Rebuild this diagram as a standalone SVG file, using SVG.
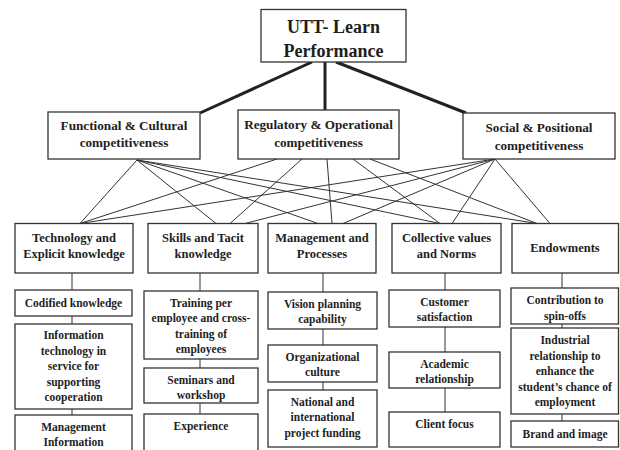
<svg xmlns="http://www.w3.org/2000/svg" width="620" height="450" viewBox="0 0 620 450">
<style>
  .box { fill: #ffffff; stroke: #333333; stroke-width: 1.3; }
  .thick { stroke: #222222; stroke-width: 3; fill: none; }
  .link { stroke: #333333; stroke-width: 1; fill: none; }
  text { font-family: "Liberation Serif", "Times New Roman", serif; font-weight: bold; fill: #1e1e1e; text-anchor: middle; }
  .t1 { font-size: 18px; }
  .t2 { font-size: 13.2px; }
  .t3 { font-size: 12.5px; }
  .t4 { font-size: 11.5px; }
</style>
<rect width="620" height="450" fill="#ffffff"/>

<g id="connectors">
  <!-- top level thick links -->
  <line class="thick" x1="312" y1="62" x2="200" y2="113"/>
  <line class="thick" x1="325" y1="62" x2="325" y2="110"/>
  <line class="thick" x1="336" y1="62" x2="466" y2="113"/>
  <!-- Functional & Cultural links -->
  <line class="link" x1="137" y1="160" x2="80" y2="223.5"/>
  <line class="link" x1="137" y1="160" x2="216" y2="223.5"/>
  <line class="link" x1="137" y1="160" x2="318" y2="223.5"/>
  <line class="link" x1="137" y1="160" x2="440" y2="223.5"/>
  <line class="link" x1="137" y1="160" x2="537" y2="223.5"/>
  <!-- Regulatory & Operational links -->
  <line class="link" x1="277" y1="159" x2="80" y2="223.5"/>
  <line class="link" x1="302" y1="159" x2="230" y2="223.5"/>
  <line class="link" x1="327" y1="159" x2="332" y2="223.5"/>
  <line class="link" x1="353" y1="159" x2="440" y2="223.5"/>
  <line class="link" x1="370" y1="159" x2="537" y2="223.5"/>
  <!-- Social & Positional links -->
  <line class="link" x1="495" y1="159" x2="80" y2="223.5"/>
  <line class="link" x1="495" y1="159" x2="245" y2="223.5"/>
  <line class="link" x1="495" y1="159" x2="343" y2="223.5"/>
  <line class="link" x1="495" y1="159" x2="452" y2="223.5"/>
  <line class="link" x1="495" y1="159" x2="550" y2="223.5"/>
  <!-- vertical chains -->
  <line class="link" x1="72" y1="273" x2="72" y2="290"/>
  <line class="link" x1="72" y1="316" x2="72" y2="324"/>
  <line class="link" x1="72" y1="409" x2="72" y2="415"/>
  <line class="link" x1="200" y1="273" x2="200" y2="291"/>
  <line class="link" x1="200" y1="359" x2="200" y2="368"/>
  <line class="link" x1="200" y1="403" x2="200" y2="414"/>
  <line class="link" x1="323" y1="273" x2="323" y2="292"/>
  <line class="link" x1="323" y1="329" x2="323" y2="345"/>
  <line class="link" x1="323" y1="382" x2="323" y2="390"/>
  <line class="link" x1="445" y1="273" x2="445" y2="290"/>
  <line class="link" x1="445" y1="327" x2="445" y2="352"/>
  <line class="link" x1="445" y1="388" x2="445" y2="412"/>
  <line class="link" x1="562" y1="273" x2="562" y2="288"/>
  <line class="link" x1="562" y1="324" x2="562" y2="328"/>
  <line class="link" x1="562" y1="414" x2="562" y2="421"/>
</g>

<g id="utt-learn">
  <rect class="box" x="261" y="9.5" width="145" height="52.5"/>
  <text class="t1" x="333.5" y="33">UTT- Learn</text>
  <text class="t1" x="333.5" y="57">Performance</text>
</g>

<g id="functional">
  <rect class="box" x="48" y="112" width="152" height="47"/>
  <text class="t2" x="124" y="130">Functional &amp; Cultural</text>
  <text class="t2" x="124" y="147">competitiveness</text>
</g>
<g id="regulatory">
  <rect class="box" x="238" y="110" width="161" height="49"/>
  <text class="t2" x="318.5" y="129">Regulatory &amp; Operational</text>
  <text class="t2" x="318.5" y="147">competitiveness</text>
</g>
<g id="social">
  <rect class="box" x="463" y="113" width="152" height="46"/>
  <text class="t2" x="539" y="132">Social &amp; Positional</text>
  <text class="t2" x="539" y="150">competitiveness</text>
</g>

<g id="technology">
  <rect class="box" x="15" y="223.5" width="118" height="49.5"/>
  <text class="t3" x="74" y="242">Technology and</text>
  <text class="t3" x="74" y="258">Explicit knowledge</text>
</g>
<g id="skills">
  <rect class="box" x="148" y="223.5" width="110" height="49.5"/>
  <text class="t3" x="203" y="242">Skills and Tacit</text>
  <text class="t3" x="203" y="258">knowledge</text>
</g>
<g id="management">
  <rect class="box" x="268" y="223.5" width="108" height="49.5"/>
  <text class="t3" x="322" y="242">Management and</text>
  <text class="t3" x="322" y="258">Processes</text>
</g>
<g id="collective">
  <rect class="box" x="392" y="223.5" width="109" height="49.5"/>
  <text class="t3" x="446.5" y="242">Collective values</text>
  <text class="t3" x="446.5" y="258">and Norms</text>
</g>
<g id="endowments">
  <rect class="box" x="512" y="223.5" width="106.5" height="49.5"/>
  <text class="t3" x="565" y="252">Endowments</text>
</g>

<g id="codified">
  <rect class="box" x="15" y="290" width="117" height="26"/>
  <text class="t4" x="73.5" y="307">Codified knowledge</text>
</g>
<g id="info-tech">
  <rect class="box" x="15" y="324" width="117" height="85"/>
  <text class="t4" x="73.5" y="339">Information</text>
  <text class="t4" x="73.5" y="354.5">technology in</text>
  <text class="t4" x="73.5" y="370">service for</text>
  <text class="t4" x="73.5" y="385.5">supporting</text>
  <text class="t4" x="73.5" y="401">cooperation</text>
</g>
<g id="mis">
  <rect class="box" x="15" y="415" width="117" height="42"/>
  <text class="t4" x="73.5" y="431">Management</text>
  <text class="t4" x="73.5" y="446">Information</text>
</g>

<g id="training">
  <rect class="box" x="144" y="291" width="114" height="68"/>
  <text class="t4" x="201" y="307">Training per</text>
  <text class="t4" x="201" y="322">employee and cross-</text>
  <text class="t4" x="201" y="337.5">training of</text>
  <text class="t4" x="201" y="353">employees</text>
</g>
<g id="seminars">
  <rect class="box" x="144" y="368" width="114" height="35"/>
  <text class="t4" x="201" y="384">Seminars and</text>
  <text class="t4" x="201" y="399">workshop</text>
</g>
<g id="experience">
  <rect class="box" x="144" y="414" width="114" height="43"/>
  <text class="t4" x="201" y="430">Experience</text>
</g>

<g id="vision">
  <rect class="box" x="268" y="292" width="109" height="37"/>
  <text class="t4" x="322.5" y="307.5">Vision planning</text>
  <text class="t4" x="322.5" y="322.5">capability</text>
</g>
<g id="organizational">
  <rect class="box" x="268" y="345" width="109" height="37"/>
  <text class="t4" x="322.5" y="361">Organizational</text>
  <text class="t4" x="322.5" y="376">culture</text>
</g>
<g id="funding">
  <rect class="box" x="268" y="390" width="109" height="57"/>
  <text class="t4" x="322.5" y="405.5">National and</text>
  <text class="t4" x="322.5" y="421">international</text>
  <text class="t4" x="322.5" y="436.5">project funding</text>
</g>

<g id="customer">
  <rect class="box" x="389" y="290" width="111" height="37"/>
  <text class="t4" x="444.5" y="306">Customer</text>
  <text class="t4" x="444.5" y="321">satisfaction</text>
</g>
<g id="academic">
  <rect class="box" x="389" y="352" width="111" height="36"/>
  <text class="t4" x="444.5" y="367.5">Academic</text>
  <text class="t4" x="444.5" y="383">relationship</text>
</g>
<g id="client">
  <rect class="box" x="389" y="412" width="111" height="35"/>
  <text class="t4" x="444.5" y="427.5">Client focus</text>
</g>

<g id="spin-offs">
  <rect class="box" x="511" y="288" width="107.5" height="36"/>
  <text class="t4" x="565" y="304">Contribution to</text>
  <text class="t4" x="565" y="319.5">spin-offs</text>
</g>
<g id="industrial">
  <rect class="box" x="511" y="328" width="107.5" height="86"/>
  <text class="t4" x="565" y="344">Industrial</text>
  <text class="t4" x="565" y="359.5">relationship to</text>
  <text class="t4" x="565" y="375">enhance the</text>
  <text class="t4" x="565" y="390.5">student’s chance of</text>
  <text class="t4" x="565" y="406">employment</text>
</g>
<g id="brand">
  <rect class="box" x="511" y="421" width="107.5" height="26"/>
  <text class="t4" x="565" y="438">Brand and image</text>
</g>
</svg>
